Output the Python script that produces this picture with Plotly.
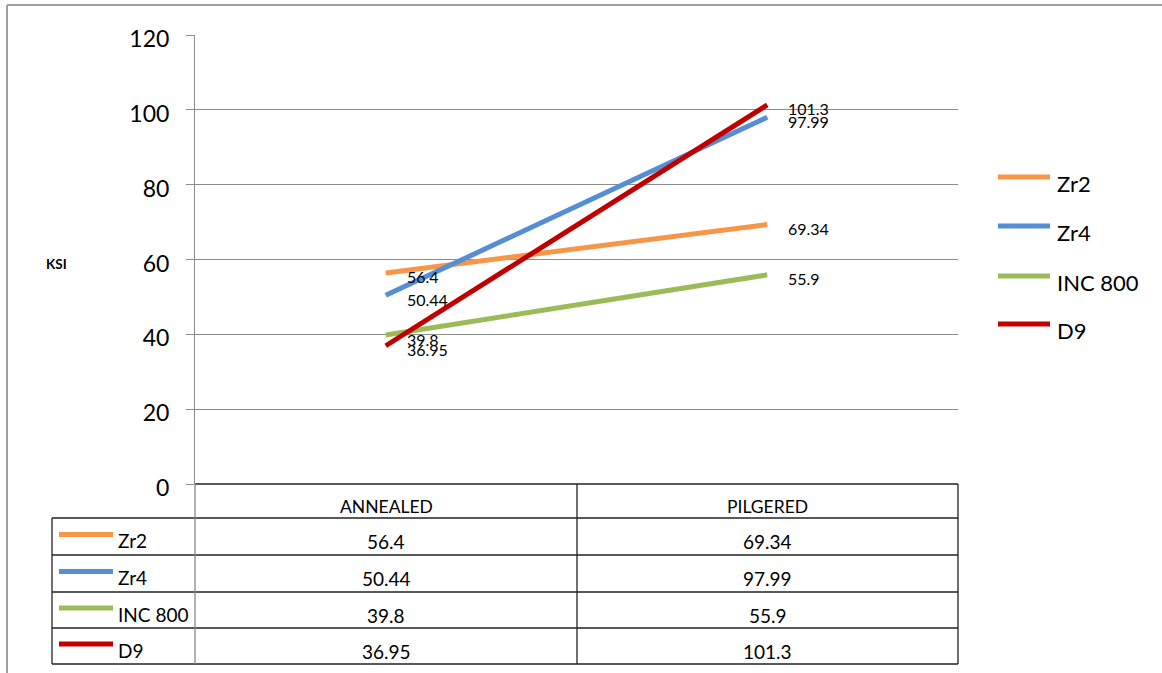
import plotly.graph_objects as go

categories = ["ANNEALED", "PILGERED"]
series_names = ["Zr2", "Zr4", "INC 800", "D9"]
zr2 = [56.4, 69.34]
zr4 = [50.44, 97.99]
inc800 = [39.8, 55.9]
d9 = [36.95, 101.3]
series_values = [zr2, zr4, inc800, d9]
colors = ["#F79646", "#558ED5", "#9BBB59", "#C00000"]
y_ticks = [0, 20, 40, 60, 80, 100, 120]
y_title = "KSI"

W, H = 1162, 673
L, R, T, B = 195, 958, 35, 484
FONT = "Lato"


def px(x):
    return (x - L) / (R - L)


def py(y):
    return (B - y) / (B - T)


fig = go.Figure()
for i, (name, vals, col) in enumerate(zip(series_names, series_values, colors)):
    fig.add_trace(go.Scatter(
        x=categories, y=vals, mode="lines", name=name,
        line=dict(color=col, width=5), showlegend=False,
        hoverinfo="x+y+name",
    ))
    for c, v in zip(categories, vals):
        fig.add_annotation(
            x=c, y=v, xref="x", yref="y", text=f"{v:g}", showarrow=False,
            xanchor="left", yanchor="middle", xshift=19, yshift=-4,
            font=dict(family=FONT, size=16, color="#000000"),
        )

shapes = []
# outer border
shapes.append(dict(type="line", xref="paper", yref="paper", x0=px(7), x1=px(W + 5),
                   y0=py(5), y1=py(5), line=dict(color="#A0A0A0", width=2)))
shapes.append(dict(type="line", xref="paper", yref="paper", x0=px(7), x1=px(7),
                   y0=py(5), y1=py(H + 5), line=dict(color="#A0A0A0", width=2)))

# legend (right side)
legend_y = [177, 226, 276, 324]
for name, col, yy in zip(series_names, colors, legend_y):
    shapes.append(dict(type="line", xref="paper", yref="paper", x0=px(998), x1=px(1050),
                       y0=py(yy), y1=py(yy), line=dict(color=col, width=5)))
    fig.add_annotation(x=px(1055), y=py(yy + 6), xref="paper", yref="paper", text=name,
                       showarrow=False, xanchor="left", yanchor="middle",
                       font=dict(family=FONT, size=22, color="#000000"))

# data table grid
row_edges = [484, 518, 555, 592, 628, 664]
col_edges = [52, 195, 577, 958]
tcol = "#222222"
for k, yy in enumerate(row_edges):
    x0 = L if k == 0 else col_edges[0]
    shapes.append(dict(type="line", xref="paper", yref="paper", x0=px(x0), x1=px(col_edges[-1]),
                       y0=py(yy), y1=py(yy), line=dict(color=tcol, width=1.3)))
for k, xx in enumerate(col_edges):
    y0 = row_edges[1] if k == 0 else row_edges[0]
    col = "#888888" if k == 1 else tcol
    shapes.append(dict(type="line", xref="paper", yref="paper", x0=px(xx), x1=px(xx),
                       y0=py(y0), y1=py(row_edges[-1]), line=dict(color=col, width=1.3)))

col_centers = [(col_edges[1] + col_edges[2]) / 2, (col_edges[2] + col_edges[3]) / 2]
for c, xc in zip(categories, col_centers):
    fig.add_annotation(x=px(xc), y=py((row_edges[0] + row_edges[1]) / 2 + 5), xref="paper", yref="paper",
                       text=c, showarrow=False, xanchor="center", yanchor="middle",
                       font=dict(family=FONT, size=17.5, color="#000000"))
for r, (name, vals, col) in enumerate(zip(series_names, series_values, colors)):
    yc = (row_edges[r + 1] + row_edges[r + 2]) / 2
    shapes.append(dict(type="line", xref="paper", yref="paper", x0=px(59), x1=px(113),
                       y0=py(yc - 2), y1=py(yc - 2), line=dict(color=col, width=5)))
    fig.add_annotation(x=px(116), y=py(yc + 4), xref="paper", yref="paper", text=name,
                       showarrow=False, xanchor="left", yanchor="middle",
                       font=dict(family=FONT, size=19, color="#000000"))
    for v, xc in zip(vals, col_centers):
        fig.add_annotation(x=px(xc), y=py(yc + 5), xref="paper", yref="paper", text=f"{v:g}",
                           showarrow=False, xanchor="center", yanchor="middle",
                           font=dict(family=FONT, size=19, color="#000000"))

fig.add_annotation(x=px(56), y=py(264), xref="paper", yref="paper", text="<b>" + y_title + "</b>",
                   showarrow=False, xanchor="center", yanchor="middle",
                   font=dict(family=FONT, size=13.5, color="#000000"))

fig.update_layout(
    width=W, height=H,
    margin=dict(l=L, r=W - R, t=T, b=H - B, pad=0),
    paper_bgcolor="white", plot_bgcolor="white",
    shapes=shapes,
    showlegend=False,
    xaxis=dict(type="category", range=[-0.5, 1.5], showticklabels=False, showgrid=False,
               showline=False, zeroline=False, ticks=""),
    yaxis=dict(range=[0, 120], tickvals=y_ticks, showgrid=True, gridcolor="#8C8C8C", gridwidth=1,
               showline=True, linecolor="#8C8C8C", linewidth=1, ticks="outside", ticklen=8,
               tickcolor="#8C8C8C", zeroline=False, ticklabelstandoff=12, ticklabelshift=4,
               tickfont=dict(family=FONT, size=23, color="#000000")),
    font=dict(family=FONT),
)

fig.write_html("out.html")
